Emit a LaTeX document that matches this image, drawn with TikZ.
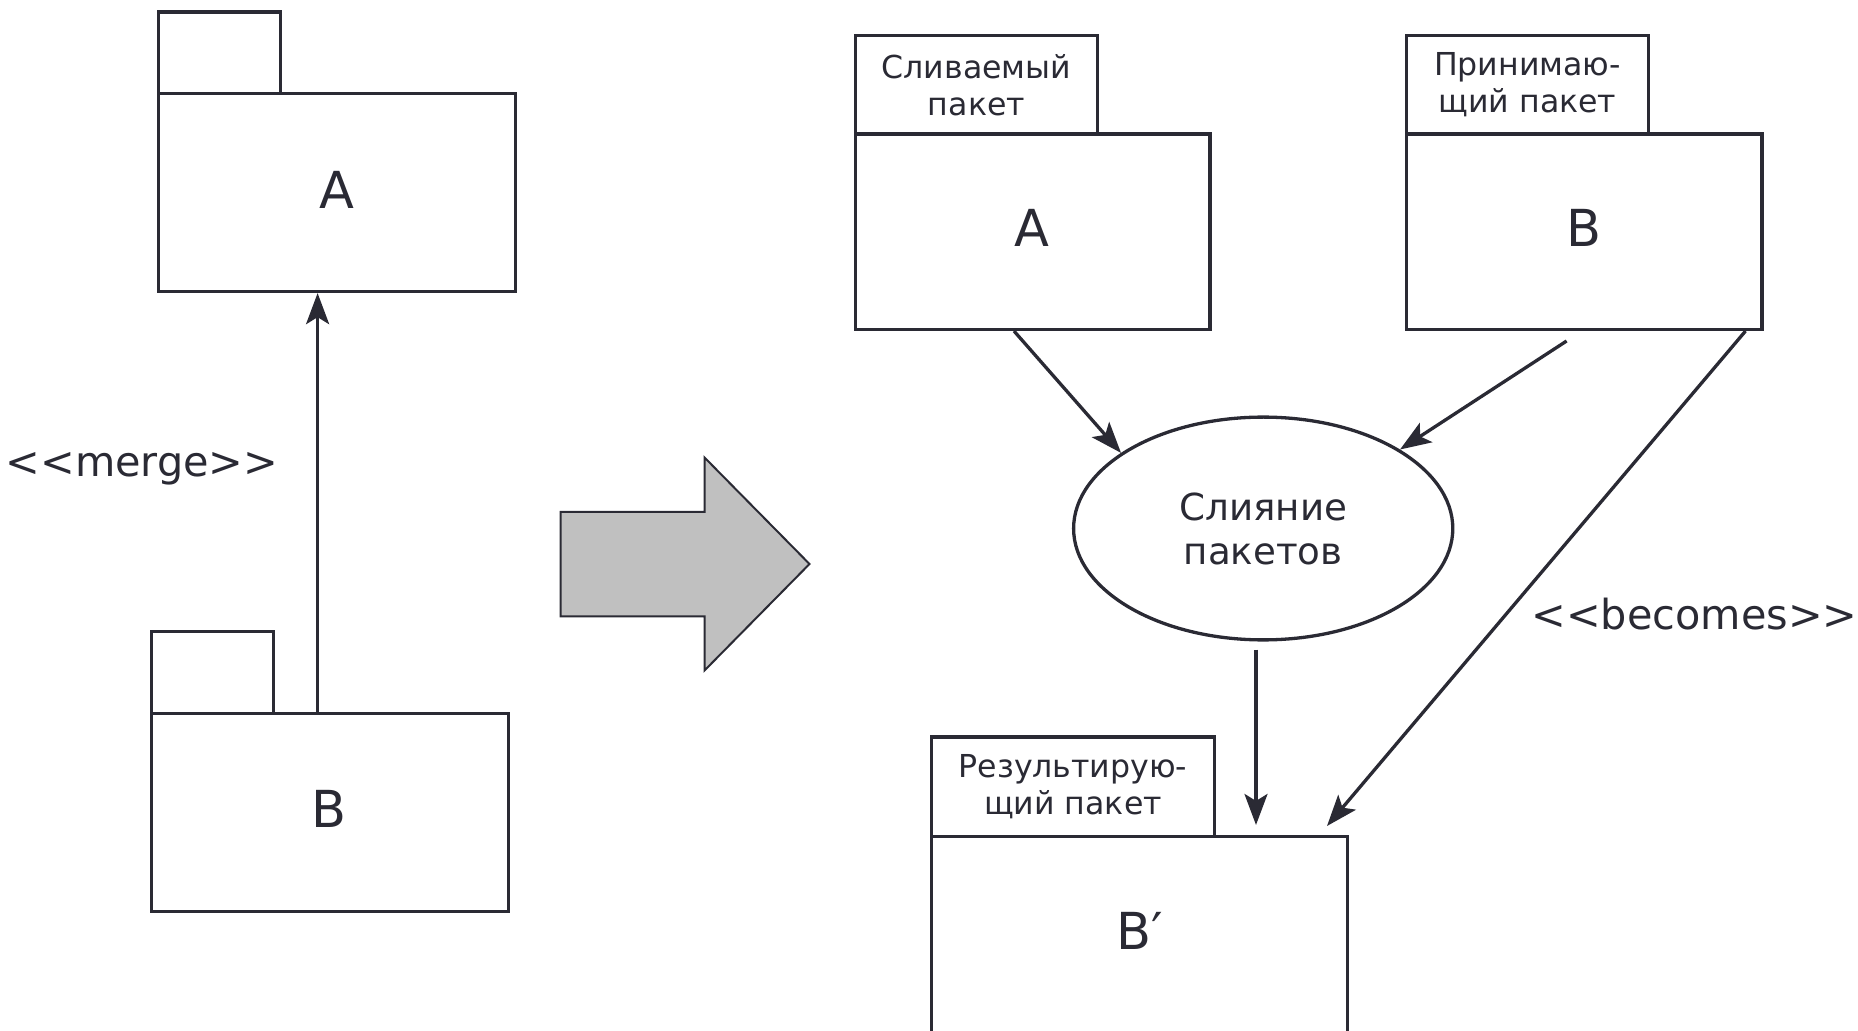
\documentclass[tikz,border=0pt]{standalone}
\usepackage{fontspec}
\setmainfont{DejaVu Sans}
\usetikzlibrary{shapes.geometric,arrows.meta,calc}
\definecolor{ink}{RGB}{42,42,52}
\definecolor{arrowfill}{RGB}{192,192,192}
\begin{document}
\begin{tikzpicture}[x=0.5pt,y=-0.5pt,
  box/.style={draw=ink, line width=1.65pt, rectangle, inner sep=0pt, text=ink},
  tabbox/.style={box, font=\fontsize{15.8}{18.5}\selectfont, align=center},
  bigtext/.style={text=ink, inner sep=0pt, font=\fontsize{25.5}{30}\selectfont},
  conn/.style={draw=ink, line width=1.65pt, -{Stealth[length=15.5pt,width=11.5pt,inset=3.5pt]}},
  lbl/.style={text=ink, font=\fontsize{20.7}{24}\selectfont, inner sep=0pt},
]
\useasboundingbox (0,0) rectangle (1858,1031);
\clip (0,0) rectangle (1858,1031);

% ---- left: package B merged into package A ----
\node[box, minimum width=178.35pt, minimum height=98.95pt] (lA) at (337.15,192.55) {};
\node[box, minimum width=61pt, minimum height=40.85pt] (lAtab) at (219.8,52.75) {};
\node[bigtext] (lAname) at (336.5,189.6) {A};
\node[box, minimum width=178.35pt, minimum height=98.95pt] (lB) at (330.05,812.35) {};
\node[box, minimum width=61pt, minimum height=40.85pt] (lBtab) at (212.7,672.5) {};
\node[bigtext] (lBname) at (329.4,809.4) {B};
\coordinate (xm) at (317.6,0);
\draw[conn] (lB.north -| xm) -- (lA.south -| xm);
\node[lbl] (mergelbl) at (142,469) {<{}<merge>{}>};

% ---- block arrow ----
\path[fill=arrowfill, draw=ink, line width=1pt]
  (560.5,512) -- (704.5,512) -- (704.5,457.5) -- (809.5,564) -- (704.5,670.5)
  -- (704.5,616.5) -- (560.5,616.5) -- cycle;

% ---- right: merge operation ----
\node[box, minimum width=177.15pt, minimum height=97.7pt] (rA) at (1032.75,231.7) {};
\node[tabbox, minimum width=120.85pt, minimum height=49.25pt] (rAtab) at (976.45,84.75) {Сливаемый\\пакет};
\node[bigtext] (rAname) at (1032,227.5) {A};
\node[box, minimum width=177.75pt, minimum height=97.7pt] (rB) at (1584.35,231.7) {};
\node[tabbox, minimum width=120.85pt, minimum height=49.25pt] (rBtab) at (1527.45,84.75) {Принимаю-\\щий пакет};
\node[bigtext] (rBname) at (1584.4,227.5) {B};

\node[ellipse, draw=ink, line width=1.65pt, minimum width=189.6pt, minimum height=111.4pt,
  inner sep=0pt, align=center, text=ink, font=\fontsize{18.6}{22}\selectfont] (mrg) at (1263.2,528.5) {Слияние\\пакетов};

\node[box, minimum width=207.95pt, minimum height=107.5pt] (res) at (1139.35,944.1) {};
\node[tabbox, minimum width=141.6pt, minimum height=49.8pt] (restab) at (1073,786.8) {Результирую-\\щий пакет};
\node[bigtext] (resname) at (1140,931) {B′};

\coordinate (x1) at (1014,0);
\draw[conn] (rA.south -| x1) -- (mrg.152);
\coordinate (s2) at (1566.6,341);
\draw[conn] (s2) -- (mrg.30);
\coordinate (x3) at (1256,0);
\draw[conn, shorten <=4pt, shorten >=5pt] (mrg.south -| x3) -- (res.north -| x3);
\coordinate (x4) at (1745.5,0);
\coordinate (e4) at (1327,826);
\draw[conn] (rB.south -| x4) -- (e4);
\node[lbl] (becomeslbl) at (1694.5,614) {<{}<becomes>{}>};
\end{tikzpicture}
\end{document}
